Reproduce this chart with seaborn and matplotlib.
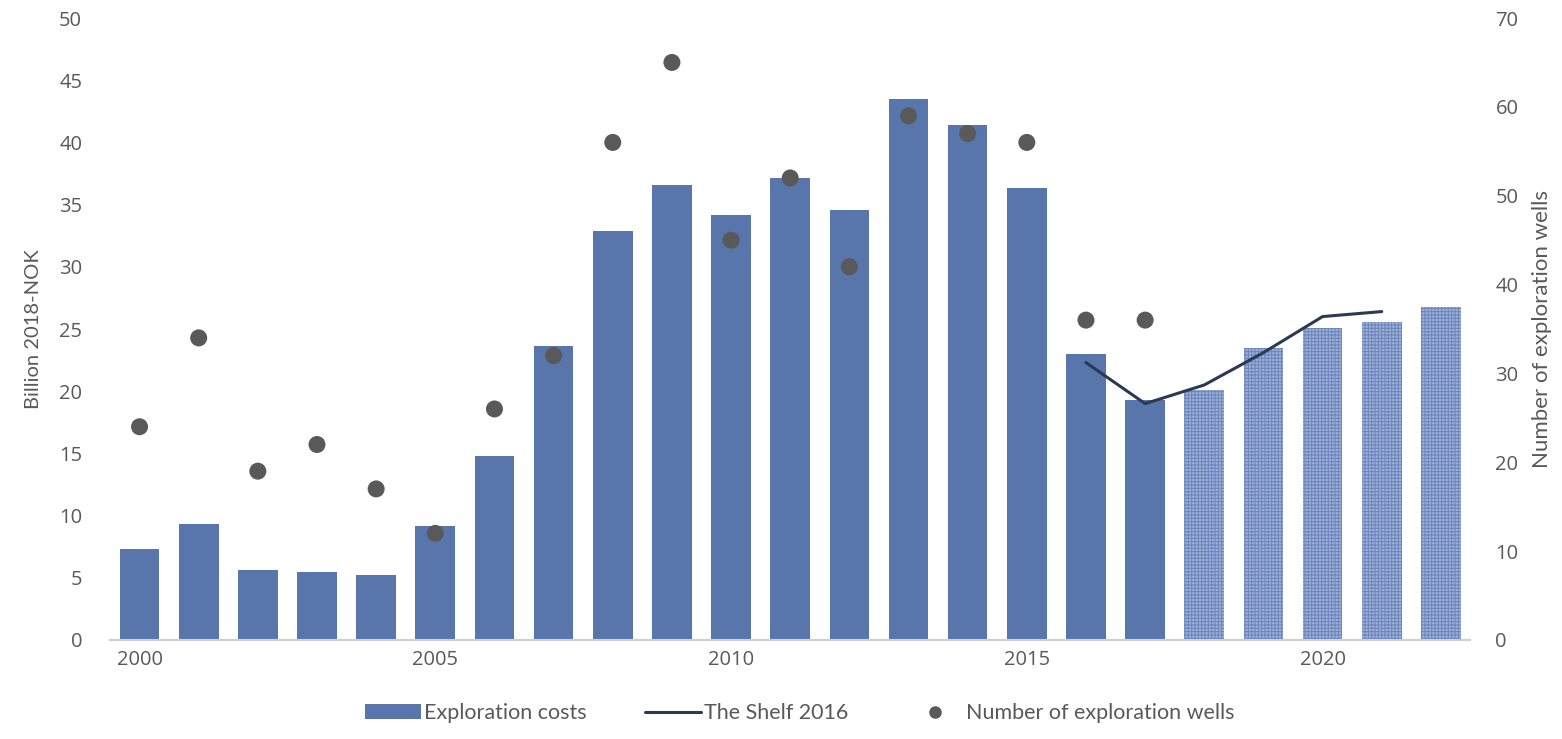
import matplotlib
matplotlib.use("Agg")
import matplotlib.pyplot as plt
from matplotlib.patches import Patch
from matplotlib.lines import Line2D
import seaborn as sns
import numpy as np
import pandas as pd

years = list(range(2000, 2023))
exploration_costs = [7.3, 9.3, 5.6, 5.5, 5.2, 9.2, 14.8, 23.6, 32.9, 36.6, 34.2, 37.1,
                     34.6, 43.5, 41.4, 36.3, 23.0, 19.3, 20.1, 23.5, 25.1, 25.6, 26.8]
first_forecast_year = 2018
well_years = list(range(2000, 2018))
exploration_wells = [24, 34, 19, 22, 17, 12, 26, 32, 56, 65, 45, 52, 42, 59, 57, 56, 36, 36]
shelf_years = [2016, 2017, 2018, 2019, 2020, 2021]
shelf_2016 = [22.3, 19.0, 20.5, 23.1, 26.0, 26.4]
x_tick_years = [2000, 2005, 2010, 2015, 2020]

BAR = "#5875ac"
HATCH_FACE = "#9fb0d5"
HATCH_EDGE = "#6a84bc"
LINE = "#2a3a52"
DOT = "#595959"
TEXT = "#595959"

sns.set_theme(style="white")
plt.rcParams["font.family"] = ["Open Sans", "DejaVu Sans"]
plt.rcParams["hatch.linewidth"] = 0.7
label_font = ["Liberation Sans Narrow", "Lato", "DejaVu Sans"]

fig = plt.figure(figsize=(15.62, 7.39), dpi=100)
ax = fig.add_axes([0.0704, 0.134, 0.871, 0.8416])

df = pd.DataFrame({"year": [str(y) for y in years], "cost": exploration_costs})
sns.barplot(data=df, x="year", y="cost", color=BAR, saturation=1, width=0.67, ax=ax)

pos = {y: i for i, y in enumerate(years)}
for i, bar in enumerate(ax.patches):
    bar.set_linewidth(0)
    if years[i] >= first_forecast_year:
        bar.set_facecolor(HATCH_FACE)
        bar.set_edgecolor(HATCH_EDGE)
        bar.set_hatch("+++++")

sns.lineplot(x=[pos[y] for y in shelf_years], y=shelf_2016, color=LINE, linewidth=2.2, ax=ax)

ax2 = ax.twinx()
sns.scatterplot(x=[pos[y] for y in well_years], y=exploration_wells, color=DOT, s=150,
                edgecolor="none", ax=ax2, zorder=5)

ax.set_xlim(-0.5, 22.5)
ax.set_ylim(0, 50)
ax2.set_ylim(0, 70)
ax.set_yticks(np.arange(0, 51, 5))
ax2.set_yticks(np.arange(0, 71, 10))
ax.set_xticks([pos[y] for y in x_tick_years])
ax.set_xticklabels([str(y) for y in x_tick_years])

for a in (ax, ax2):
    for s in ("top", "left", "right"):
        a.spines[s].set_visible(False)
    a.spines["bottom"].set_color("#d0d0d0")
    a.spines["bottom"].set_linewidth(1.5)
    a.tick_params(length=0, colors=TEXT, labelsize=14.5)
    a.grid(False)
ax.tick_params(axis="x", pad=7)
ax.tick_params(axis="y", pad=20)
ax2.tick_params(axis="y", pad=18)

ax.set_xlabel("")
ax.set_ylabel("Billion 2018-NOK", color=TEXT, fontsize=14.5, family=label_font, labelpad=12)
ax2.set_ylabel("Number of exploration wells", color=TEXT, fontsize=16, family=label_font, labelpad=10)

handles = [
    Patch(facecolor=BAR, edgecolor="none"),
    Line2D([0], [0], color=LINE, linewidth=2.2),
    Line2D([0], [0], marker="o", linestyle="none", color=DOT, markersize=8),
]
labels = ["Exploration costs", "The Shelf 2016", "Number of exploration wells"]
leg = fig.legend(handles, labels, loc="lower center", bbox_to_anchor=(0.512, -0.005), ncol=3,
                 frameon=False, handlelength=2.6, handletextpad=0.15, columnspacing=2.7,
                 prop={"family": label_font, "size": 15.5})
for t in leg.get_texts():
    t.set_color(TEXT)

fig.savefig("out.png", dpi=100)
